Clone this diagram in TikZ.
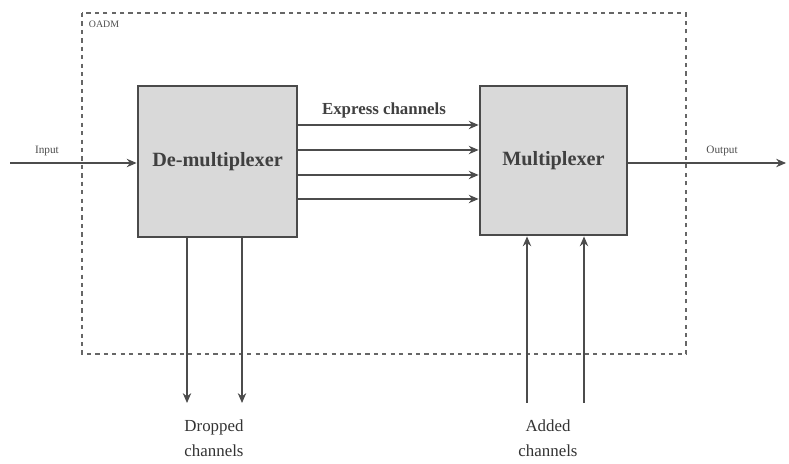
\documentclass[tikz,border=0pt]{standalone}
\usepackage{fontspec}
\setmainfont{Liberation Serif}
\usetikzlibrary{arrows.meta}

\definecolor{boxGrey}{HTML}{D9D9D9}
\definecolor{lineGrey}{HTML}{4A4A4A}

\begin{document}
\begin{tikzpicture}[
    x=0.025cm, y=-0.025cm,
    unit/.style={draw=lineGrey, line width=2pt, fill=boxGrey,
        font=\bfseries\Large, text=black!75},
    sig/.style={-{Stealth[length=7pt,width=6pt]}, thick, draw=black!70},
    lbl/.style={font=\footnotesize, text=black!70},
]
\useasboundingbox (0,0) rectangle (789,464);

% OADM border
\draw[dashed, thick, black!60] (82,13) rectangle (686,354);
\node[lbl, font=\scriptsize, anchor=west] (oadm) at (84,24) {OADM};

% Blocks
\node[unit, minimum width=3.975cm, minimum height=3.775cm]
    (demux) at (217.5,161.5) {De-multiplexer};
\node[unit, minimum width=3.675cm, minimum height=3.725cm]
    (mux) at (553.5,160.5) {Multiplexer};

% Input / output
\coordinate (inp) at (10,163);
\coordinate (outp) at (786,163);
\draw[sig] (inp) -- (inp -| demux.west);
\node[lbl, anchor=south] at (47,161) {Input};
\draw[sig] (mux.east |- outp) -- (outp);
\node[lbl, anchor=south] at (722,161) {Output};

% Express channels
\foreach \yy in {125,150,175,199}
    \draw[sig] (demux.east |- 0,\yy) -- (mux.west |- 0,\yy);
\node[font=\bfseries\large, text=black!75] (expr) at (384,110)
    {Express channels};

% Dropped channels
\coordinate (dropA) at (187,403);
\coordinate (dropB) at (242,403);
\draw[sig] (dropA |- demux.south) -- (dropA);
\draw[sig] (dropB |- demux.south) -- (dropB);
\node[font=\large, text=black!80, align=center] (dropped) at (214,438)
    {Dropped\\[4pt] channels};

% Added channels
\coordinate (addA) at (527,403);
\coordinate (addB) at (584,403);
\draw[sig] (addA) -- (addA |- mux.south);
\draw[sig] (addB) -- (addB |- mux.south);
\node[font=\large, text=black!80, align=center] (added) at (548,438)
    {Added\\[4pt] channels};

\end{tikzpicture}
\end{document}
